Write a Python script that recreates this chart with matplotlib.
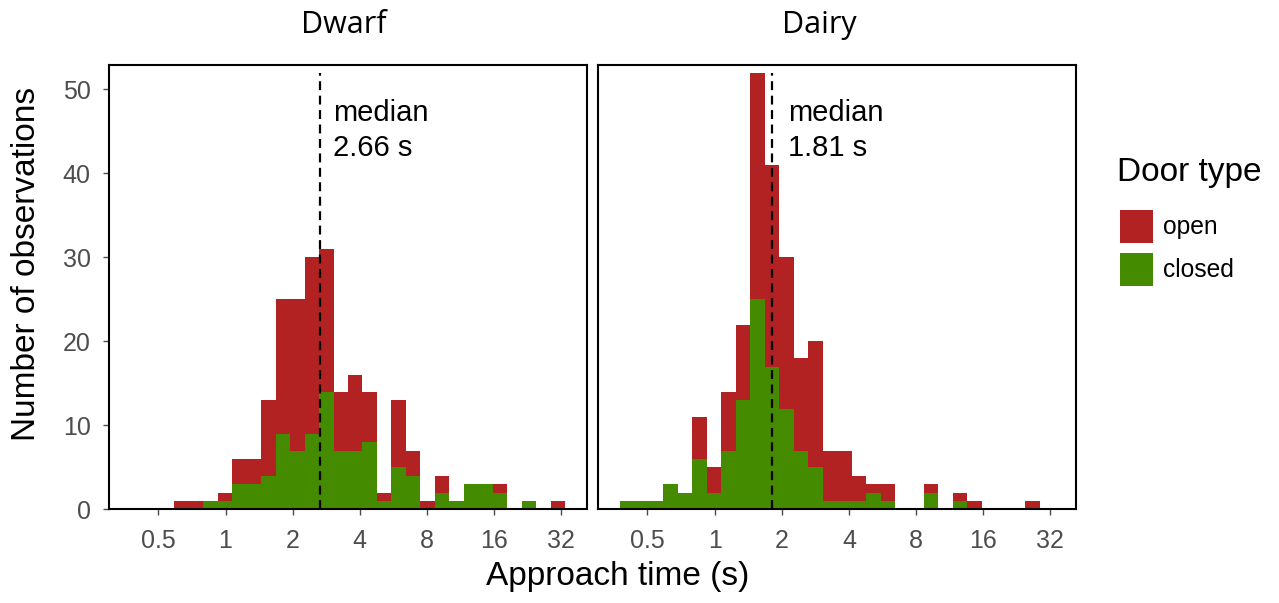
import numpy as np
import matplotlib
matplotlib.use("Agg")
import matplotlib.pyplot as plt
from matplotlib.patches import Rectangle

plt.rcParams.update({
    'font.family': ['Liberation Sans', 'DejaVu Sans'],
})

# bins: equal width on log2 scale (30 bins shared by both panels)
bin_start_log2 = -1.409
bin_width_log2 = 0.2156
n_bins = 30
edges = 2.0 ** (bin_start_log2 + bin_width_log2 * np.arange(n_bins + 1))

panels = ["Dwarf", "Dairy"]
medians = [2.66, 1.81]

# counts per bin (closed = green at bottom, open = red stacked on top)
dwarf_closed = [0, 0, 0, 0, 0, 1, 1, 3, 3, 4, 9, 7, 9, 14, 7, 7, 8, 1, 5, 4,
                0, 2, 1, 3, 3, 2, 0, 1, 0, 0]
dwarf_open = [0, 0, 0, 1, 1, 0, 1, 3, 3, 9, 16, 18, 21, 17, 7, 9, 6, 1, 8, 3,
              1, 2, 0, 0, 0, 1, 0, 0, 0, 1]
dairy_closed = [1, 1, 1, 3, 2, 6, 2, 7, 13, 25, 17, 12, 7, 5, 1, 1, 1, 2, 1, 0,
                0, 2, 0, 1, 0, 0, 0, 0, 0, 0]
dairy_open = [0, 0, 0, 0, 0, 5, 3, 7, 9, 27, 24, 18, 11, 15, 6, 6, 3, 1, 2, 0,
              0, 1, 0, 1, 1, 0, 0, 0, 1, 0]

closed_counts = [dwarf_closed, dairy_closed]
open_counts = [dwarf_open, dairy_open]

legend_labels = ["open", "closed"]
col_open = "#B22222"
col_closed = "#458B00"
tick_col = "#4D4D4D"

W, H = 1279, 603
fig = plt.figure(figsize=(W / 100, H / 100), dpi=100)

ax_boxes = [(109.3, 586.7), (598.3, 1076.0)]
y_top, y_bot = 65.0, 509.3
title_x = [343.5, 819.0]
text_x = [3.04, 2.14]

widths = np.diff(edges)
ymax_all = max(max(np.array(c) + np.array(o)) for c, o in zip(closed_counts, open_counts))

for i, name in enumerate(panels):
    x0, x1 = ax_boxes[i]
    ax = fig.add_axes([x0 / W, 1 - y_bot / H, (x1 - x0) / W, (y_bot - y_top) / H])
    closed = np.array(closed_counts[i])
    opened = np.array(open_counts[i])
    ax.bar(edges[:-1], closed, width=widths, align='edge', color=col_closed, linewidth=0)
    ax.bar(edges[:-1], opened, width=widths, bottom=closed, align='edge',
           color=col_open, linewidth=0)

    ax.plot([medians[i], medians[i]], [0, ymax_all], color='black', lw=1.6,
            linestyle=(0, (4, 2.5)))
    ax.text(text_x[i], 48.9, f"median\n{medians[i]:.2f} s", fontsize=21,
            va='top', ha='left', linespacing=1.32)

    ax.set_xscale('log', base=2)
    ax.set_xlim(2 ** -1.732, 2 ** 5.382)
    ax.set_ylim(0, 52.9)
    ax.set_xticks([0.5, 1, 2, 4, 8, 16, 32])
    ax.set_xticklabels(['0.5', '1', '2', '4', '8', '16', '32'])
    ax.minorticks_off()
    ax.set_yticks([0, 10, 20, 30, 40, 50])
    ax.tick_params(axis='both', labelsize=18, colors=tick_col, labelcolor=tick_col,
                   length=4.5, width=1)
    ax.tick_params(axis='x', pad=10)
    ax.tick_params(axis='y', pad=9)
    if i == 1:
        ax.tick_params(axis='y', left=False, labelleft=False)
    for sp in ax.spines.values():
        sp.set_linewidth(1.5)
        sp.set_color('black')

    fig.text(title_x[i] / W, 1 - 25 / H, name, fontsize=22, ha='center', va='center',
             family=['Open Sans', 'DejaVu Sans'])

fig.text(617.5 / W, 1 - 577 / H, "Approach time (s)", fontsize=24, ha='center', va='center')
fig.text(27 / W, 1 - 264 / H, "Number of observations", fontsize=24, ha='center',
         va='center', rotation=90)

# legend
fig.text(1117 / W, 1 - 173 / H, "Door type", fontsize=24, ha='left', va='center')
for j, (lab, col) in enumerate(zip(legend_labels, [col_open, col_closed])):
    top = 210 + 43 * j
    fig.add_artist(Rectangle((1120 / W, 1 - (top + 33) / H), 33 / W, 33 / H,
                             transform=fig.transFigure, facecolor=col, edgecolor='none'))
    fig.text(1163 / W, 1 - (top + 17) / H, lab, fontsize=17.7, ha='left', va='center')

fig.savefig("out.png", dpi=100)
